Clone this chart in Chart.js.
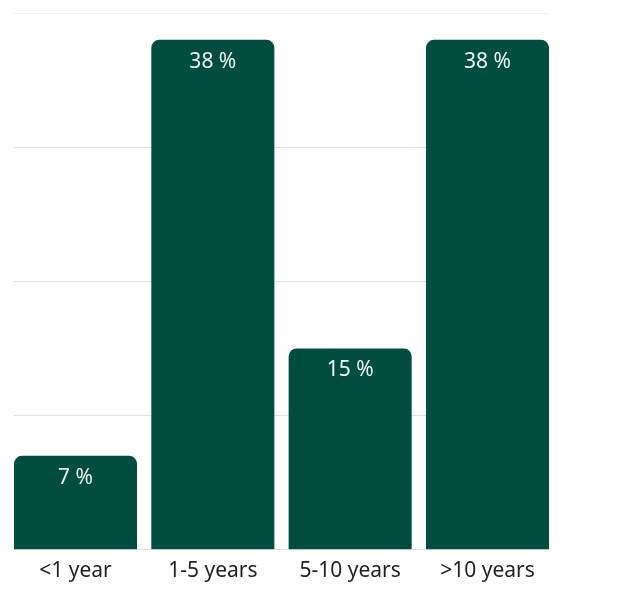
<!DOCTYPE html>
<html>
<head>
<meta charset="utf-8">
<script src="https://cdn.jsdelivr.net/npm/chart.js@4"></script>
<style>
    html, body { margin: 0; padding: 0; background: #ffffff; }
    #wrap { width: 639px; height: 604px; }
</style>
</head>
<body>
<div id="wrap"><canvas id="tenureChart"></canvas></div>
<script>
// Data
const categories = ['<1 year', '1-5 years', '5-10 years', '>10 years'];
const shares = [7, 38, 15, 38];
const yTicks = [0, 10, 20, 30, 40];

const FONT = '"Noto Sans", "Open Sans", sans-serif';

// Draws the "xx %" label just inside the top of each bar
const barLabels = {
    id: 'barLabels',
    afterDatasetsDraw(chart) {
        const ctx = chart.ctx;
        const meta = chart.getDatasetMeta(0);
        ctx.save();
        ctx.font = '21px ' + FONT;
        ctx.fillStyle = '#eef4f1';
        ctx.textAlign = 'center';
        ctx.textBaseline = 'middle';
        meta.data.forEach((bar, i) => {
            ctx.fillText(shares[i] + ' %', bar.x, bar.y + 22);
        });
        ctx.restore();
    }
};

// Linear x axis so the outer bars sit flush with the grid ends
const xPad = 0.448;

new Chart(document.getElementById('tenureChart'), {
    type: 'bar',
    data: {
        datasets: [{
            data: categories.map((c, i) => ({ x: i, y: shares[i] })),
            backgroundColor: '#014d3f',
            borderRadius: 8,
            categoryPercentage: 1,
            barPercentage: 0.896
        }]
    },
    options: {
        responsive: true,
        maintainAspectRatio: false,
        animation: false,
        layout: { padding: { left: 14, right: 90, top: 13, bottom: 11 } },
        plugins: { legend: { display: false }, tooltip: { enabled: false } },
        scales: {
            x: {
                type: 'linear',
                offset: false,
                min: -xPad,
                max: categories.length - 1 + xPad,
                afterBuildTicks: (scale) => { scale.ticks = categories.map((c, i) => ({ value: i })); },
                grid: { display: false, drawTicks: false },
                border: { display: true, color: '#e2e2e2' },
                ticks: {
                    color: '#222222',
                    padding: 9,
                    maxRotation: 0,
                    autoSkip: false,
                    font: { family: FONT, size: 21 },
                    callback: (v) => categories[v]
                }
            },
            y: {
                min: yTicks[0],
                max: yTicks[yTicks.length - 1],
                afterBuildTicks: (scale) => { scale.ticks = yTicks.map(v => ({ value: v })); },
                ticks: { display: false },
                border: { display: false },
                grid: {
                    drawTicks: false,
                    color: (c) => c.tick && c.tick.value === 40 ? '#f2f2f2' : '#e2e2e2'
                }
            }
        }
    },
    plugins: [barLabels]
});
</script>
</body>
</html>
